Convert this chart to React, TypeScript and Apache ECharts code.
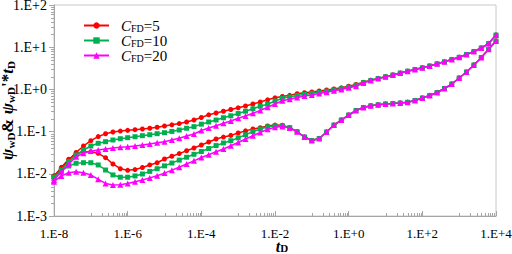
import React, { useEffect, useRef } from "react";
import * as echarts from "echarts";

// dimensionless time grid (5 points per decade, 1E-8 .. 1E+4)
const tD = [
  1e-8, 1.585e-8, 2.512e-8, 3.981e-8, 6.31e-8,
  1e-7, 1.585e-7, 2.512e-7, 3.981e-7, 6.31e-7,
  1e-6, 1.585e-6, 2.512e-6, 3.981e-6, 6.31e-6,
  1e-5, 1.585e-5, 2.512e-5, 3.981e-5, 6.31e-5,
  1e-4, 1.585e-4, 2.512e-4, 3.981e-4, 6.31e-4,
  1e-3, 1.585e-3, 2.512e-3, 3.981e-3, 6.31e-3,
  1e-2, 1.585e-2, 2.512e-2, 3.981e-2, 6.31e-2,
  1e-1, 1.585e-1, 2.512e-1, 3.981e-1, 6.31e-1,
  1, 1.585, 2.512, 3.981, 6.31,
  10, 15.85, 25.12, 39.81, 63.1,
  100, 158.5, 251.2, 398.1, 631,
  1000, 1585, 2512, 3981, 6310,
  10000,
];

// pseudo-pressure psi_wD
const pressure5 = [
  0.0089, 0.0134, 0.0212, 0.032, 0.0456, 0.061, 0.076, 0.089, 0.098, 0.103,
  0.107, 0.111, 0.115, 0.12, 0.127, 0.136, 0.145, 0.155, 0.169, 0.188,
  0.216, 0.25, 0.276, 0.304, 0.334, 0.366, 0.404, 0.451, 0.503, 0.567,
  0.632, 0.679, 0.725, 0.787, 0.835, 0.868, 0.917, 0.968, 1.02, 1.09,
  1.19, 1.31, 1.47, 1.65, 1.81, 1.99, 2.19, 2.44, 2.7, 2.96,
  3.25, 3.58, 4.04, 4.51, 5.11, 5.76, 6.71, 7.91, 9.57, 12.2, 19.4,
];
const pressure10 = [
  0.0083, 0.0123, 0.0194, 0.0279, 0.0366, 0.0456, 0.0528, 0.0576, 0.0632, 0.0679,
  0.0717, 0.0757, 0.08, 0.0844, 0.0892, 0.0942, 0.101, 0.109, 0.12, 0.131,
  0.15, 0.169, 0.188, 0.213, 0.237, 0.268, 0.304, 0.347, 0.397, 0.446,
  0.531, 0.615, 0.665, 0.717, 0.761, 0.808, 0.853, 0.906, 0.968, 1.04,
  1.13, 1.26, 1.45, 1.63, 1.81, 1.99, 2.19, 2.44, 2.7, 2.96,
  3.25, 3.58, 4.04, 4.51, 5.11, 5.76, 6.71, 7.91, 9.57, 12.2, 19.4,
];
const pressure20 = [
  0.0071, 0.0112, 0.0171, 0.0254, 0.0306, 0.0347, 0.0366, 0.0387, 0.0409, 0.0425,
  0.0439, 0.0456, 0.0481, 0.0508, 0.0546, 0.0576, 0.0632, 0.0694, 0.0787, 0.0877,
  0.106, 0.122, 0.138, 0.157, 0.178, 0.207, 0.234, 0.271, 0.316, 0.377,
  0.451, 0.537, 0.586, 0.643, 0.698, 0.737, 0.8, 0.858, 0.927, 1.0,
  1.09, 1.19, 1.42, 1.62, 1.81, 1.99, 2.19, 2.44, 2.7, 2.96,
  3.25, 3.58, 4.04, 4.51, 5.11, 5.76, 6.71, 7.91, 9.57, 12.2, 19.4,
];

// derivative psi_wD' * tD
const deriv5 = [
  0.0089, 0.0142, 0.0221, 0.0295, 0.0334, 0.0334, 0.0306, 0.0241, 0.0171, 0.0132,
  0.0121, 0.0126, 0.0141, 0.0162, 0.0183, 0.0224, 0.026, 0.0301, 0.0351, 0.0409,
  0.0481, 0.0567, 0.0667, 0.0741, 0.0813, 0.0927, 0.104, 0.115, 0.124, 0.136,
  0.143, 0.141, 0.124, 0.0995, 0.0745, 0.0615, 0.0686, 0.0978, 0.143, 0.188,
  0.247, 0.316, 0.373, 0.409, 0.432, 0.451, 0.463, 0.476, 0.495, 0.546,
  0.625, 0.717, 0.844, 1.05, 1.34, 1.86, 2.58, 3.79, 5.7, 8.92, 14.0,
];
const deriv10 = [
  0.0083, 0.0119, 0.0153, 0.0178, 0.0183, 0.0183, 0.0162, 0.0123, 0.0094, 0.0083,
  0.0083, 0.0089, 0.0099, 0.0114, 0.0132, 0.0154, 0.018, 0.0211, 0.0247, 0.029,
  0.0337, 0.0397, 0.0466, 0.0537, 0.0609, 0.0709, 0.0844, 0.1, 0.115, 0.13,
  0.136, 0.137, 0.124, 0.0995, 0.0745, 0.0615, 0.0686, 0.0978, 0.143, 0.188,
  0.247, 0.316, 0.373, 0.409, 0.432, 0.451, 0.463, 0.476, 0.495, 0.546,
  0.625, 0.717, 0.844, 1.05, 1.34, 1.86, 2.58, 3.79, 5.7, 8.92, 14.0,
];
const deriv20 = [
  0.0065, 0.0089, 0.0106, 0.0112, 0.0106, 0.0094, 0.0074, 0.0059, 0.0054, 0.0055,
  0.0059, 0.0065, 0.0071, 0.008, 0.009, 0.0104, 0.0122, 0.0143, 0.0171, 0.0203,
  0.0244, 0.0282, 0.0332, 0.0387, 0.0461, 0.0552, 0.0667, 0.0795, 0.0952, 0.114,
  0.126, 0.132, 0.122, 0.099, 0.0745, 0.0615, 0.0686, 0.0978, 0.143, 0.188,
  0.247, 0.316, 0.373, 0.409, 0.432, 0.451, 0.463, 0.476, 0.495, 0.546,
  0.625, 0.717, 0.844, 1.05, 1.34, 1.86, 2.58, 3.79, 5.7, 8.92, 14.0,
];

const cfdLabels = ["5", "10", "20"];
const seriesColors = ["#ff0000", "#00b050", "#ff00ff"];
const seriesSymbols = ["circle", "rect", "triangle"];
const symbolSizes = [5, 5, 6];

// axis range in decades
const xMinExp = -8;
const xMaxExp = 4;
const xStepExp = 2;
const yMinExp = -3;
const yMaxExp = 2;
const yStepExp = 1;

const FONT = "'Liberation Serif', 'Times New Roman', serif";

const sci = (e: number) => {
  const n = Math.round(e);
  return "1.E" + (n >= 0 ? "+" : "") + n;
};

const toXY = (vals: number[]) =>
  vals.map((v, i) => [Math.log10(tD[i]), Math.log10(v)]);

export default function App() {
  const ref = useRef<HTMLDivElement>(null);

  useEffect(() => {
    if (!ref.current) return;
    const chart = echarts.init(ref.current, undefined, { renderer: "svg" });

    const pressures = [pressure5, pressure10, pressure20];
    const derivs = [deriv5, deriv10, deriv20];
    const names = cfdLabels.map((c) => "CFD=" + c);

    const lineSeries: any[] = [];
    names.forEach((name, k) => {
      [pressures[k], derivs[k]].forEach((vals) => {
        lineSeries.push({
          type: "line",
          name,
          data: toXY(vals),
          symbol: seriesSymbols[k],
          symbolSize: symbolSizes[k],
          showSymbol: true,
          color: seriesColors[k],
          lineStyle: { color: seriesColors[k], width: 1.5 },
          itemStyle: { color: seriesColors[k] },
          z: 3 + k,
        });
      });
    });

    // log minor ticks
    const yMinor: number[][] = [];
    for (let e = yMinExp; e < yMaxExp; e++)
      for (let k = 2; k <= 9; k++) yMinor.push([xMinExp, e + Math.log10(k)]);
    const xMinor: number[][] = [];
    for (let e = xMinExp + 1; e < xMaxExp; e += 2)
      for (let k = 1; k <= 9; k++) xMinor.push([e + Math.log10(k), yMinExp]);

    const tickColor = "#a6a6a6";

    const option: any = {
      animation: false,
      backgroundColor: "#ffffff",
      grid: {
        left: 54,
        right: 16,
        top: 5,
        bottom: 38,
        containLabel: false,
        outerBoundsMode: "none",
        show: true,
        borderColor: "#c8c8c8",
        borderWidth: 1,
        backgroundColor: "transparent",
      },
      legend: {
        orient: "vertical",
        left: 78,
        top: 13,
        itemWidth: 25,
        itemHeight: 8,
        itemGap: -0.5,
        data: names,
        formatter: (n: string) => "{c|C}{s|FD}{n|" + n.slice(3) + "}",
        textStyle: {
          fontFamily: FONT,
          color: "#000",
          rich: {
            c: { fontFamily: FONT, fontStyle: "italic", fontSize: 15, lineHeight: 16, padding: [0, 0, 0, 7], color: "#000" },
            s: { fontFamily: FONT, fontSize: 10, lineHeight: 4, verticalAlign: "bottom", color: "#000" },
            n: { fontFamily: FONT, fontSize: 15, lineHeight: 16, color: "#000" },
          },
        },
      },
      xAxis: {
        type: "value",
        min: xMinExp,
        max: xMaxExp,
        interval: xStepExp,
        axisLine: { show: true, onZero: false, lineStyle: { color: tickColor, width: 1 } },
        axisTick: { show: true, inside: true, length: 5, lineStyle: { color: tickColor } },
        splitLine: { show: false },
        axisLabel: {
          formatter: (v: number) => sci(v),
          color: "#000",
          fontFamily: FONT,
          fontSize: 13,
          lineHeight: 13,
          margin: 11,
        },
        name: "{t|t}{s|D}",
        nameLocation: "middle",
        nameGap: 24,
        nameMoveOverlap: false,
        nameTextStyle: {
          padding: [0, 0, 0, 14],
          rich: {
            t: { fontFamily: FONT, fontStyle: "italic", fontWeight: "bold", fontSize: 16, lineHeight: 13, color: "#000" },
            s: { fontFamily: FONT, fontWeight: "bold", fontSize: 11, lineHeight: 4, verticalAlign: "bottom", color: "#000" },
          },
        },
      },
      yAxis: {
        type: "value",
        min: yMinExp,
        max: yMaxExp,
        interval: yStepExp,
        axisLine: { show: true, onZero: false, lineStyle: { color: tickColor, width: 1 } },
        axisTick: { show: true, inside: false, length: 5, lineStyle: { color: tickColor } },
        splitLine: { show: false },
        axisLabel: {
          formatter: (v: number) => sci(v),
          color: "#000",
          fontFamily: FONT,
          fontSize: 14,
          lineHeight: 11,
          margin: 7,
        },
        name: "{i|ψ}{s|wD}{n|& }{i|ψ}{s|wD}{n|'*}{i|t}{s|D}",
        nameLocation: "middle",
        nameGap: 38,
        nameMoveOverlap: false,
        nameTextStyle: {
          rich: {
            i: { fontFamily: FONT, fontStyle: "italic", fontWeight: "bold", fontSize: 17, lineHeight: 18, color: "#000" },
            n: { fontFamily: FONT, fontWeight: "bold", fontSize: 17, lineHeight: 18, color: "#000" },
            s: { fontFamily: FONT, fontWeight: "bold", fontSize: 11, lineHeight: 6, verticalAlign: "bottom", color: "#000" },
          },
        },
      },
      series: [
        ...lineSeries,
        {
          type: "custom",
          name: "yMinorTicks",
          silent: true,
          data: yMinor,
          renderItem: (_p: any, api: any) => {
            const pt = api.coord([api.value(0), api.value(1)]);
            const y = Math.round(pt[1]) + 0.5;
            return {
              type: "line",
              shape: { x1: pt[0] - 3, y1: y, x2: pt[0], y2: y },
              style: { stroke: tickColor, lineWidth: 1 },
            };
          },
        },
        {
          type: "custom",
          name: "xMinorTicks",
          silent: true,
          data: xMinor,
          renderItem: (_p: any, api: any) => {
            const pt = api.coord([api.value(0), api.value(1)]);
            const x = Math.round(pt[0]) + 0.5;
            return {
              type: "line",
              shape: { x1: x, y1: pt[1], x2: x, y2: pt[1] - 3 },
              style: { stroke: tickColor, lineWidth: 1 },
            };
          },
        },
      ],
    };

    chart.setOption(option);
    return () => chart.dispose();
  }, []);

  return (
    <div
      ref={ref}
      style={{ position: "fixed", left: 0, top: 0, width: 512, height: 254, background: "#fff" }}
    />
  );
}
